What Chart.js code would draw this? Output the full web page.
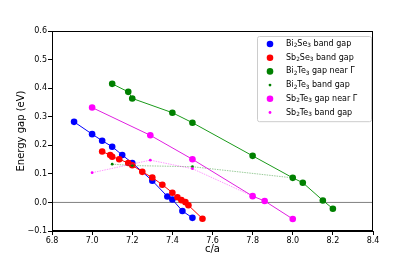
<!DOCTYPE html>
<html>
<head>
<meta charset="utf-8">
<script src="https://cdn.jsdelivr.net/npm/chart.js@4/dist/chart.umd.min.js"></script>
<style>
  html, body { margin: 0; background: #fff; }
  #wrap { width: 415px; height: 260px; }
</style>
</head>
<body>
<div id="wrap"><canvas id="chart"></canvas></div>
<script>
// === Data ===
const bi2se3X = [6.91, 7.0, 7.05, 7.10, 7.15, 7.20, 7.30, 7.375, 7.40, 7.45, 7.50];
const bi2se3Y = [0.282, 0.239, 0.216, 0.195, 0.166, 0.138, 0.076, 0.021, 0.010, -0.030, -0.054];

const sb2se3X = [7.05, 7.09, 7.10, 7.135, 7.18, 7.20, 7.25, 7.30, 7.35, 7.40, 7.425, 7.445, 7.465, 7.48, 7.55];
const sb2se3Y = [0.178, 0.166, 0.160, 0.151, 0.138, 0.130, 0.107, 0.087, 0.062, 0.034, 0.018, 0.008, 0.001, -0.010, -0.057];

const bi2te3GammaX = [7.10, 7.18, 7.20, 7.40, 7.50, 7.80, 8.00, 8.05, 8.15, 8.20];
const bi2te3GammaY = [0.415, 0.387, 0.364, 0.314, 0.279, 0.163, 0.086, 0.069, 0.007, -0.022];

const bi2te3BandX = [7.10, 7.20, 7.50, 8.00];
const bi2te3BandY = [0.134, 0.129, 0.125, 0.086];

const sb2te3GammaX = [7.0, 7.29, 7.50, 7.80, 7.86, 8.00];
const sb2te3GammaY = [0.332, 0.235, 0.151, 0.022, 0.005, -0.058];

const sb2te3BandX = [7.0, 7.29, 7.50, 7.80];
const sb2te3BandY = [0.104, 0.148, 0.118, 0.022];

const seriesLabels = [
  "Bi_2Se_3 band gap",
  "Sb_2Se_3 band gap",
  "Bi_2Te_3 gap near Γ",
  "Bi_2Te_3 band gap",
  "Sb_2Te_3 gap near Γ",
  "Sb_2Te_3 band gap"
];

const xTicks = [6.8, 7.0, 7.2, 7.4, 7.6, 7.8, 8.0, 8.2, 8.4];
const yTicks = [-0.1, 0.0, 0.1, 0.2, 0.3, 0.4, 0.5, 0.6];

// === Styling ===
const FONT = '"DejaVu Sans", sans-serif';
const seriesStyle = [
  { color: "#0000ff", line: "#0000ff", r: 3.3, dash: [] },
  { color: "#ff0000", line: "#ff0000", r: 3.3, dash: [] },
  { color: "#008000", line: "#1a9a1a", r: 3.3, dash: [] },
  { color: "#008000", line: "rgba(0,128,0,0.4)", r: 1.4, dash: [1.5, 1] },
  { color: "#ff00ff", line: "#e020e0", r: 3.3, dash: [] },
  { color: "#ff00ff", line: "rgba(255,0,255,0.4)", r: 1.4, dash: [1.5, 1] }
];

const pts = (xs, ys) => xs.map((x, i) => ({ x, y: ys[i] }));
const seriesData = [
  pts(bi2se3X, bi2se3Y),
  pts(sb2se3X, sb2se3Y),
  pts(bi2te3GammaX, bi2te3GammaY),
  pts(bi2te3BandX, bi2te3BandY),
  pts(sb2te3GammaX, sb2te3GammaY),
  pts(sb2te3BandX, sb2te3BandY)
];

const datasets = seriesData.map((data, i) => ({
  label: seriesLabels[i],
  data,
  showLine: true,
  borderColor: seriesStyle[i].line,
  borderWidth: 1,
  borderDash: seriesStyle[i].dash,
  backgroundColor: seriesStyle[i].color,
  pointBackgroundColor: seriesStyle[i].color,
  pointBorderColor: seriesStyle[i].color,
  pointBorderWidth: 0,
  pointRadius: seriesStyle[i].r,
  order: 6 - i
}));

// zero line across the axes
datasets.push({
  label: "zero",
  data: [{ x: xTicks[0], y: 0 }, { x: xTicks[xTicks.length - 1], y: 0 }],
  showLine: true,
  borderColor: "#808080",
  borderWidth: 1,
  pointRadius: 0,
  order: 10
});

// text with _N subscripts
function drawRich(ctx, text, x, y, size) {
  text.split(/(_\d)/).forEach(p => {
    if (!p) return;
    if (p[0] === "_") {
      ctx.font = `${size * 0.72}px ${FONT}`;
      ctx.fillText(p[1], x, y + size * 0.25);
      x += ctx.measureText(p[1]).width;
    } else {
      ctx.font = `${size}px ${FONT}`;
      ctx.fillText(p, x, y);
      x += ctx.measureText(p).width;
    }
  });
}

const framePlugin = {
  id: "frame",
  afterDraw(chart) {
    const { ctx, chartArea: a } = chart;
    ctx.save();
    ctx.strokeStyle = "#000";
    ctx.lineWidth = 1;
    ctx.strokeRect(Math.round(a.left) + 0.5, Math.round(a.top) + 0.5,
      Math.round(a.right - a.left) - 1, Math.round(a.bottom - a.top) - 1);

    // legend box, upper right
    const w = 114, rowH = 13.7;
    const bx = a.right - 2 - w, by = a.top + 5;
    const h = rowH * seriesLabels.length + 3;
    ctx.beginPath();
    ctx.roundRect(bx + 0.5, by + 0.5, w, h, 2);
    ctx.fillStyle = "rgba(255,255,255,0.8)";
    ctx.fill();
    ctx.strokeStyle = "#cccccc";
    ctx.stroke();
    ctx.textBaseline = "middle";
    seriesLabels.forEach((lab, i) => {
      const cy = by + 8 + i * rowH;
      ctx.beginPath();
      ctx.arc(bx + 13, cy, seriesStyle[i].r, 0, Math.PI * 2);
      ctx.fillStyle = seriesStyle[i].color;
      ctx.fill();
      ctx.fillStyle = "#000";
      drawRich(ctx, lab, bx + 29, cy, 8);
    });
    ctx.restore();
  }
};

new Chart(document.getElementById("chart"), {
  type: "scatter",
  data: { datasets },
  options: {
    responsive: true,
    maintainAspectRatio: false,
    animation: false,
    devicePixelRatio: 1,
    layout: { padding: { left: 0, top: 31, right: 42, bottom: 0 } },
    plugins: { legend: { display: false }, tooltip: { enabled: false } },
    scales: {
      x: {
        type: "linear",
        min: xTicks[0],
        max: xTicks[xTicks.length - 1],
        afterFit: s => { s.height = 29; },
        afterBuildTicks: s => { s.ticks = xTicks.map(v => ({ value: v })); },
        ticks: { color: "#000", font: { family: FONT, size: 8 }, padding: 1,
          callback: v => v.toFixed(1), maxRotation: 0, autoSkip: false },
        grid: { drawOnChartArea: false, color: "#000", tickLength: 4 },
        border: { display: true, color: "#000" },
        title: { display: true, text: "c/a", color: "#000",
          font: { family: FONT, size: 10 }, padding: { top: 0, bottom: 5 } }
      },
      y: {
        type: "linear",
        min: yTicks[0],
        max: yTicks[yTicks.length - 1],
        afterFit: s => { s.width = 52; },
        afterBuildTicks: s => { s.ticks = yTicks.map(v => ({ value: v })); },
        ticks: { color: "#000", font: { family: FONT, size: 8 }, padding: 1,
          callback: v => v.toFixed(1).replace("-", "\u2212"), autoSkip: false },
        grid: { drawOnChartArea: false, color: "#000", tickLength: 4 },
        border: { display: true, color: "#000" },
        title: { display: true, text: "Energy gap (eV)", color: "#000",
          font: { family: FONT, size: 10 }, padding: { top: 15, bottom: 0 } }
      }
    }
  },
  plugins: [framePlugin]
});
</script>
</body>
</html>
